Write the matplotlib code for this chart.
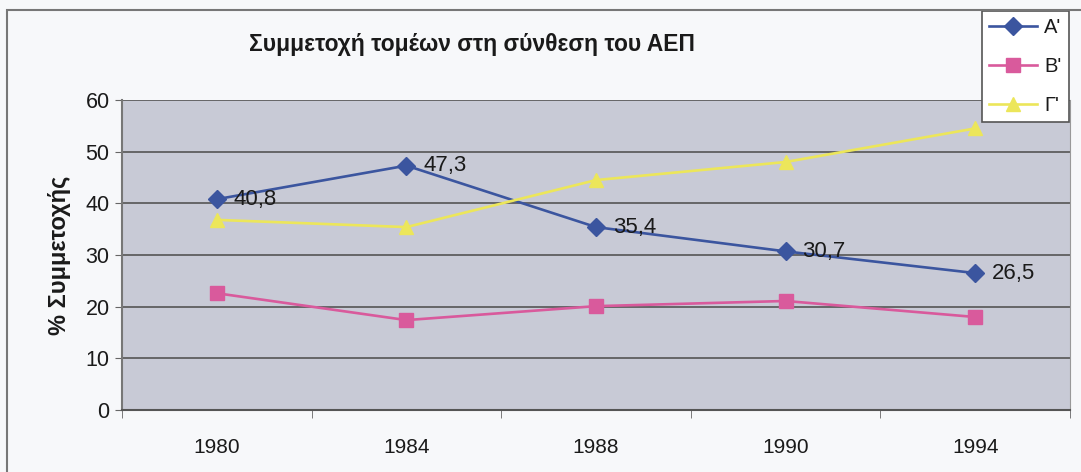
import numpy as np
import matplotlib.pyplot as plt
from matplotlib.patches import Rectangle

years = ["1980", "1984", "1988", "1990", "1994"]
series_names = ["Α'", "Β'", "Γ'"]
a_vals = [40.8, 47.3, 35.4, 30.7, 26.5]
b_vals = [22.6, 17.4, 20.1, 21.1, 18.0]
c_vals = [36.8, 35.4, 44.5, 48.0, 54.5]
a_labels = ["40,8", "47,3", "35,4", "30,7", "26,5"]

plt.rcParams['font.family'] = ['Liberation Sans', 'DejaVu Sans']

fig = plt.figure(figsize=(10.81, 4.72), dpi=100)
fig.patch.set_facecolor('#f7f8fa')
W, H = 1081, 472

# outer frame of the chart
fig.add_artist(Rectangle((7 / W, -0.02), 1.05, 1 - 10 / H + 0.02, transform=fig.transFigure,
                         fill=False, edgecolor='#777777', lw=1.5))

ax = fig.add_axes([122 / W, 1 - 410 / H, (1070 - 122) / W, (410 - 100) / H])
ax.set_facecolor('#c8cad6')

x = np.arange(len(years))
ax.plot(x, a_vals, color='#3b559f', lw=1.9, marker='D', ms=9, label=series_names[0], zorder=3)
ax.plot(x, b_vals, color='#d95a9c', lw=1.9, marker='s', ms=10.5, label=series_names[1], zorder=3)
ax.plot(x, c_vals, color='#ece65a', lw=1.9, marker='^', ms=10.5, label=series_names[2], zorder=3)

for xi, v, t in zip(x, a_vals, a_labels):
    ax.annotate(t, (xi, v), xytext=(12, 0), textcoords='offset points',
                va='center', ha='left', fontsize=16, color='#1a1a1a', zorder=4)

ax.set_xlim(-0.5, len(years) - 0.5)
ax.set_ylim(0, 60)
ax.set_yticks(range(0, 61, 10))
ax.yaxis.grid(True, color='#555555', lw=1.2)
ax.set_axisbelow(True)
ax.set_xticks(x)
ax.set_xticklabels(years)
ax.set_xticks(np.arange(-0.5, len(years), 1), minor=True)
ax.tick_params(axis='x', which='major', length=0, pad=20, labelsize=15, colors='#1a1a1a')
ax.tick_params(axis='x', which='minor', length=6, color='#666666')
ax.tick_params(axis='y', length=5, color='#666666', labelsize=15.5, colors='#1a1a1a', pad=4)
ax.spines['top'].set_visible(False)
ax.spines['left'].set_color('#777777')
ax.spines['bottom'].set_color('#555555')
ax.spines['right'].set_color('#999999')
ax.spines['left'].set_linewidth(1.5)
ax.spines['bottom'].set_linewidth(1.5)

ax.set_ylabel('% Συμμετοχής', fontsize=17, fontweight='bold', color='#1a1a1a', labelpad=10)

fig.text(472 / W, 1 - 45 / H, 'Συμμετοχή τομέων στη σύνθεση του ΑΕΠ', ha='center', va='center',
         fontsize=16.5, fontweight='bold', color='#1a1a1a')

leg = ax.legend(loc='upper left', bbox_to_anchor=(982 / W, 1 - 11 / H), bbox_transform=fig.transFigure,
                fontsize=14.5, frameon=True, fancybox=False, edgecolor='#555555', framealpha=1,
                handlelength=2.4, handletextpad=0.35, borderpad=0.35, borderaxespad=0,
                labelspacing=1.0)
leg.get_frame().set_linewidth(1.2)
for t in leg.get_texts():
    t.set_color('#1a1a1a')

fig.savefig('out.png', dpi=100, facecolor=fig.get_facecolor())
